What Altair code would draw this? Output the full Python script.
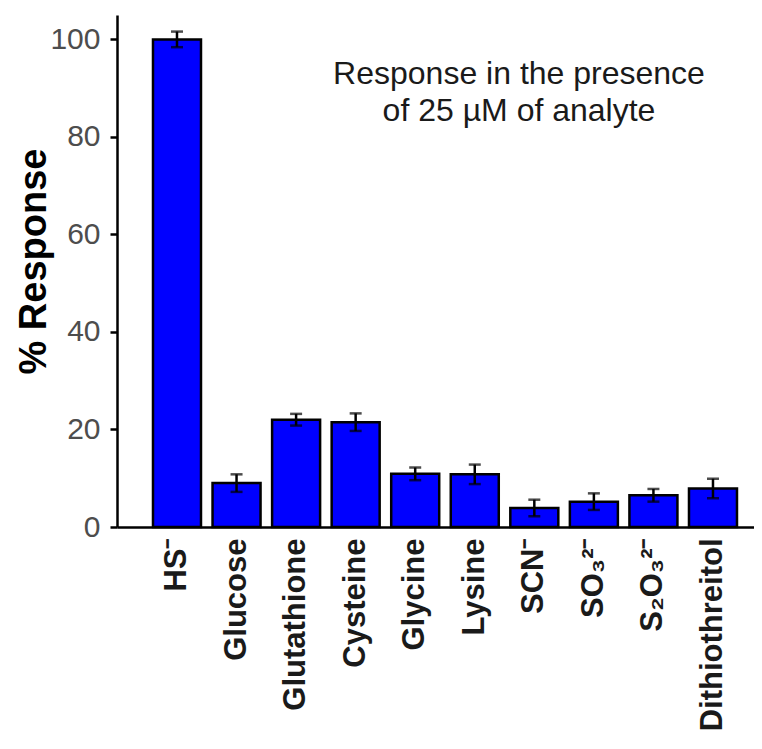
import altair as alt
import pandas as pd

categories = ["HS⁻", "Glucose", "Glutathione", "Cysteine", "Glycine", "Lysine",
              "SCN⁻", "SO₃²⁻", "S₂O₃²⁻", "Dithiothreitol"]
values = [100.0, 9.0, 22.0, 21.5, 10.9, 10.8, 3.9, 5.2, 6.5, 7.9]
errors = [1.6, 1.8, 1.2, 1.8, 1.3, 2.0, 1.7, 1.7, 1.3, 2.0]
note_lines = ["Response in the presence", "of 25 µM of analyte"]

df = pd.DataFrame({"analyte": categories, "response": values, "err": errors})
df["lo"] = df["response"] - df["err"]
df["hi"] = df["response"] + df["err"]

FONT = "Liberation Sans"

x = alt.X("analyte:N", sort=categories, title=None,
          scale=alt.Scale(paddingInner=0.194, paddingOuter=0.445, align=0.679),
          axis=alt.Axis(labelAngle=-90, labelAlign="right", labelBaseline="middle",
                        labelFontSize=31, labelFontWeight="bold", labelColor="#1A1A1A",
                        labelFont=FONT, labelPadding=11, labelLimit=400,
                        labelOverlap=False, ticks=False, domainColor="black",
                        domainWidth=2.5))
y_scale = alt.Scale(domain=[0, 105], nice=False, zero=True)
y_axis = alt.Axis(values=[0, 20, 40, 60, 80, 100], grid=False, title="% Response",
                  titleFont=FONT, titleFontSize=38, titleFontWeight="bold",
                  titleColor="black", titleAngle=-90, titleBaseline="alphabetic",
                  titleAlign="center", titleX=-72, titleY=246,
                  labelFont=FONT, labelFontSize=30, labelColor="#4D4D4D",
                  labelPadding=10, tickSize=7, tickWidth=2.5, tickColor="black",
                  domainColor="black", domainWidth=2.5)

base = alt.Chart(df)

bars = base.mark_bar(color="#0000FF", stroke="black", strokeWidth=2.5).encode(
    x=x,
    y=alt.Y("response:Q", scale=y_scale, axis=y_axis),
)

rules = base.mark_rule(color="black", strokeWidth=2.5).encode(
    x=alt.X("analyte:N", sort=categories),
    y="lo:Q",
    y2="hi:Q",
)
caps_lo = base.mark_tick(color="black", thickness=2.5, size=12, orient="horizontal").encode(
    x=alt.X("analyte:N", sort=categories),
    y="lo:Q",
)
caps_hi = base.mark_tick(color="black", thickness=2.5, size=12, orient="horizontal").encode(
    x=alt.X("analyte:N", sort=categories),
    y="hi:Q",
)

note = alt.Chart(pd.DataFrame({"t": [0]})).mark_text(
    text=note_lines, font=FONT, fontSize=32, color="#1A1A1A",
    align="center", baseline="alphabetic", lineHeight=37,
).encode(x=alt.value(402), y=alt.value(69))

chart = alt.layer(bars, rules, caps_lo, caps_hi, note).properties(
    width=637, height=512,
    autosize=alt.AutoSizeParams(type="none"),
    padding={"left": 109, "top": 7, "right": 0, "bottom": 213},
    background="white",
).configure_view(stroke=None)

chart.save("out.html", embed_options={"renderer": "svg", "actions": False})
